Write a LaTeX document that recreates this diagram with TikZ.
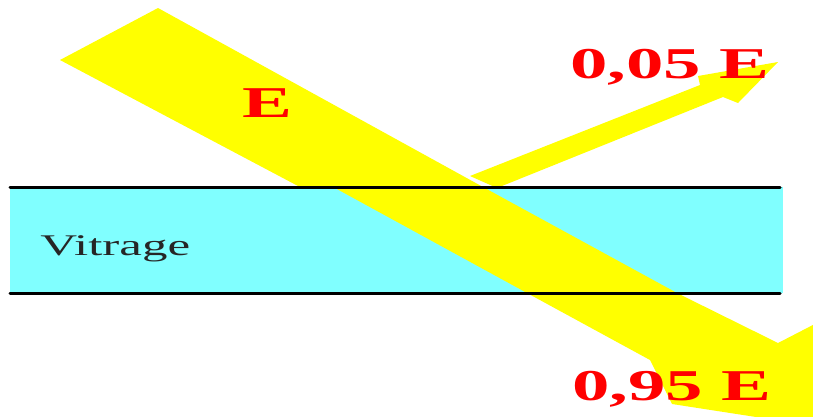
\documentclass[tikz,border=0pt]{standalone}
\usepackage{fontspec}
\setmainfont{Liberation Serif}
\definecolor{cyellow}{HTML}{FFFF00}
\definecolor{ccyan}{HTML}{80FFFF}
\definecolor{cred}{HTML}{FF0000}
\tikzset{
  beam/.style={fill=cyellow, draw=none},
  pane/.style={fill=ccyan, draw=none},
  rim/.style={draw=black, line width=3pt, line cap=round},
  energy/.style={text=cred, font=\fontsize{44}{44}\selectfont\bfseries, inner sep=0pt, anchor=base west, xscale=1.7, transform shape},
  tag/.style={text=black!85, font=\fontsize{30}{30}\selectfont, inner sep=0pt, anchor=base west, xscale=1.7, transform shape},
}

\begin{document}
\begin{tikzpicture}[x=1pt, y=1pt]
  \useasboundingbox (0,0) rectangle (813,-416);
  \clip (0,0) rectangle (813,-416);
  % glass pane
  \fill[pane] (10,-187) rectangle (783,-293);
  % incident and transmitted beam
  \fill[beam] (60,-60) -- (158,-8) -- (483,-187) -- (677,-293) -- (778,-343)
    -- (840,-311) -- (840,-430) -- (672,-404) -- (650,-360) -- (527,-293)
    -- (335,-188) -- (298,-186) -- cycle;
  % reflected beam
  \fill[beam] (470,-176) -- (700,-85) -- (698,-76) -- (778,-62) -- (738,-103)
    -- (723,-97) -- (497,-188) -- cycle;
  \draw[rim] (10,-187) -- (780,-187);
  \draw[rim] (10,-293) -- (780,-293);
  \node[energy] (E) at (242,-117) {E};
  \node[energy] (R) at (570,-78) {0,05 E};
  \node[energy] (T) at (572,-400) {0,95 E};
  \node[tag] (V) at (40,-255) {Vitrage};
\end{tikzpicture}
\end{document}
